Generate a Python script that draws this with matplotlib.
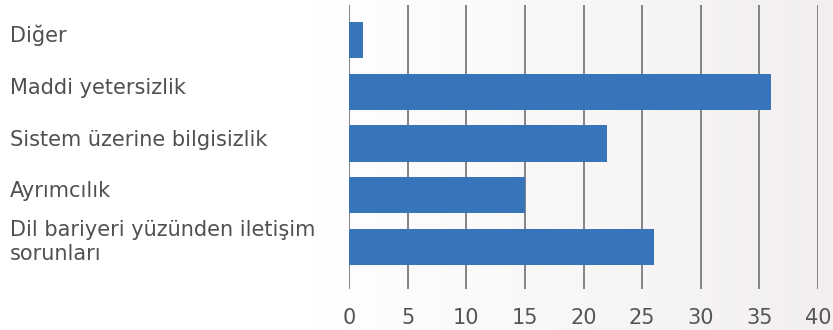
import matplotlib
matplotlib.use("Agg")
import matplotlib.pyplot as plt
import numpy as np

categories = ["Diğer", "Maddi yetersizlik", "Sistem üzerine bilgisizlik",
              "Ayrımcılık", "Dil bariyeri yüzünden iletişim\nsorunları"]
values = [1.2, 36, 22, 15, 26]
ticks = [0, 5, 10, 15, 20, 25, 30, 35, 40]

plt.rcParams['font.family'] = ['DejaVu Sans']

W, H = 833, 330
fig = plt.figure(figsize=(W / 100, H / 100), dpi=100)

# soft background gradient, white on the left to light warm grey on the right
bg = fig.add_axes([0, 0, 1, 1])
grad = np.linspace(0, 1, 256)
grad = np.clip((grad - 0.38) / 0.62, 0, 1)
c0 = np.array([1.0, 1.0, 1.0])
c1 = np.array([0xf2, 0xef, 0xee]) / 255
img = c0[None, :] * (1 - grad[:, None]) + c1[None, :] * grad[:, None]
bg.imshow(img[None, :, :], aspect='auto', extent=[0, 1, 0, 1])
bg.axis('off')

x0, x1 = 349 / W, 818 / W
top, bot = 5, 289
ax = fig.add_axes([x0, 1 - bot / H, x1 - x0, (bot - top) / H])
ax.patch.set_alpha(0)

y = np.arange(len(categories))
ax.set_xlim(0, 40)
ax.set_ylim(4.81, -0.676)
for t in ticks:
    ax.axvline(t, color='#838383', lw=1.4, zorder=1)
ax.barh(y, values, height=0.7, color='#3874b9', zorder=2)

ax.set_yticks([])
ax.set_xticks([])
for s in ax.spines.values():
    s.set_visible(False)

for t in ticks:
    fig.text((349 + t * (818 - 349) / 40) / W, 1 - 318 / H, str(t),
             ha='center', va='center', fontsize=15, color='#555555')

label_y = [35, 88, 140, 191, 242]
for lab, ly in zip(categories, label_y):
    fig.text(10 / W, 1 - ly / H, lab, ha='left', va='center', fontsize=15,
             color='#505050', linespacing=1.3)

fig.savefig("out.png", dpi=100)
